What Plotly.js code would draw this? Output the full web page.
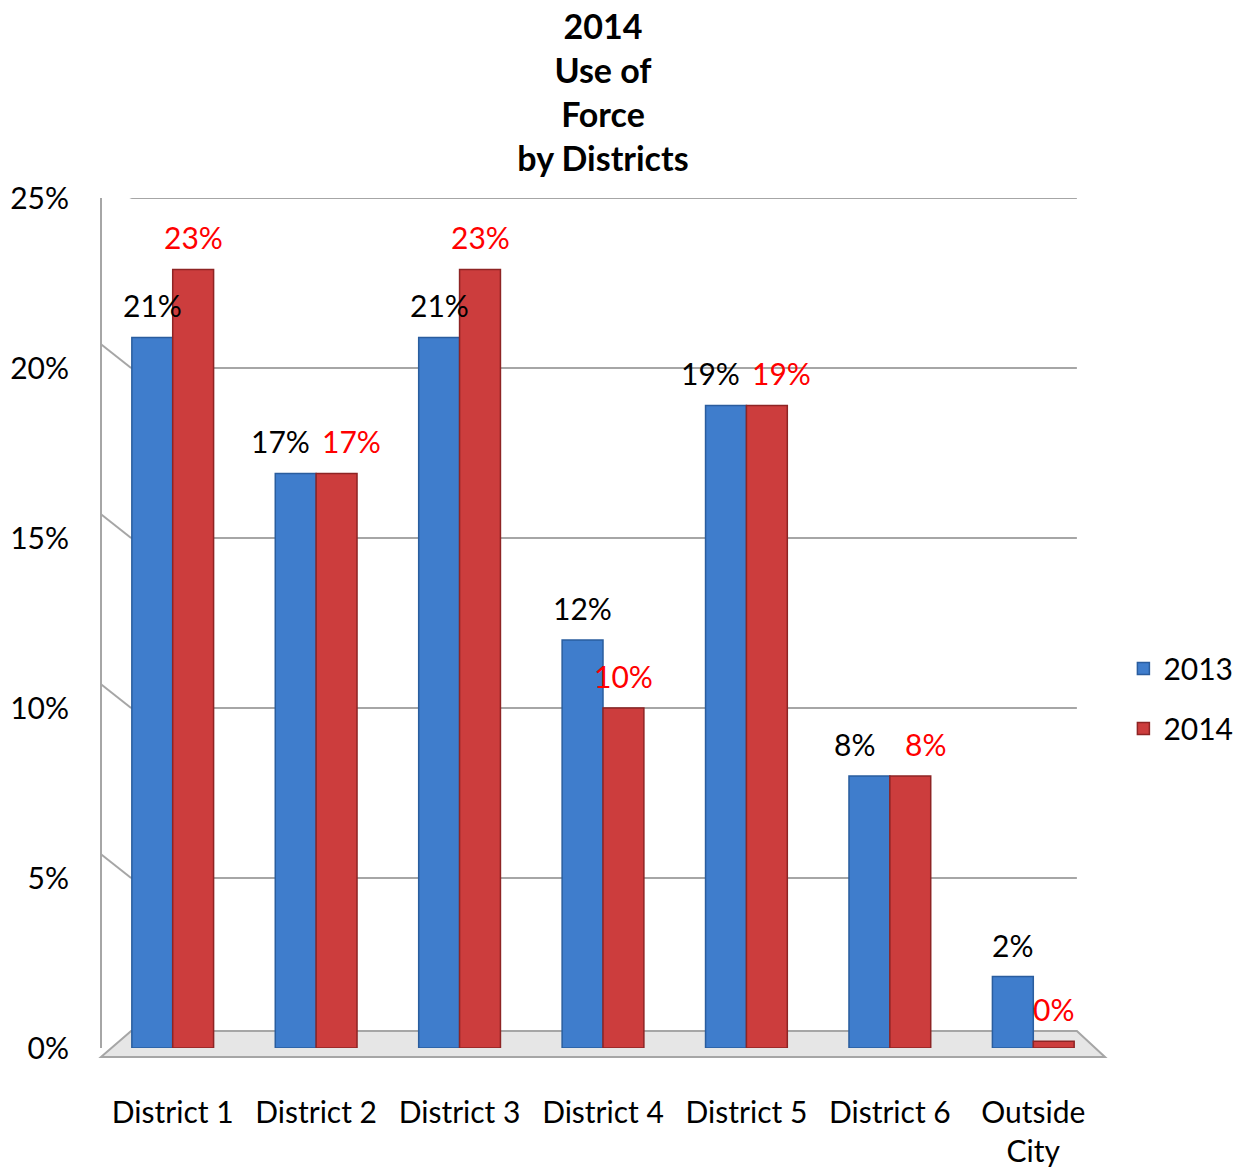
<!DOCTYPE html>
<html>
<head>
<meta charset="utf-8">
<script src="https://cdn.plot.ly/plotly-3.0.1.min.js"></script>
<style>html,body{margin:0;padding:0;background:#fff;}#chart{width:1251px;height:1168px;}</style>
</head>
<body>
<div id="chart"></div>
<script>
var categories = ["District 1", "District 2", "District 3", "District 4", "District 5", "District 6", "Outside<br>City"];
var values2013 = [20.9, 16.9, 20.9, 12.0, 18.9, 8.0, 2.1];
var values2014 = [22.9, 16.9, 22.9, 10.0, 18.9, 8.0, 0.2];
var labels2013 = ["21%", "17%", "21%", "12%", "19%", "8%", "2%"];
var labels2014 = ["23%", "17%", "23%", "10%", "19%", "8%", "0%"];
var yTickVals = [0, 5, 10, 15, 20, 25];
var yTickText = ["0%", "5%", "10%", "15%", "20%", "25%"];

var FONT = "Lato, 'Open Sans', sans-serif";
var GRID = "#a6a6a6";

var trace2013 = {
  type: "bar", name: "2013", x: categories, y: values2013,
  marker: {color: "#3f7dcc", line: {color: "#2a5d9e", width: 1.5}},
  legendgroup: "a", hoverinfo: "none"
};
var trace2014 = {
  type: "bar", name: "2014", x: categories, y: values2014,
  marker: {color: "#cc3d3d", line: {color: "#8e2424", width: 1.5}},
  legendgroup: "b", hoverinfo: "none"
};

// data labels as annotations, spread apart when a pair sits at a similar height
var annotations = [];
var barHalf = 20.5;
for (var i = 0; i < categories.length; i++) {
  var spread = Math.abs(values2013[i] - values2014[i]) < 1.5 ? 15 : 0;
  annotations.push({
    x: categories[i], y: values2013[i], xref: "x", yref: "y",
    text: labels2013[i], showarrow: false, yanchor: "bottom", yshift: 12,
    xshift: -barHalf - spread,
    font: {family: FONT, size: 30, color: "#000000"}
  });
  annotations.push({
    x: categories[i], y: values2014[i], xref: "x", yref: "y",
    text: labels2014[i], showarrow: false, yanchor: "bottom", yshift: 12,
    xshift: barHalf + spread,
    font: {family: FONT, size: 30, color: "#ff0000"}
  });
}

// back-wall gridlines with a short diagonal from the left wall
var shapes = [
  {type: "path", xref: "paper", yref: "paper", layer: "below",
   path: "M 0 -0.0106 L 1 -0.0106 L 0.972 0.02 L 0.03 0.02 Z",
   fillcolor: "#e6e6e6", line: {color: GRID, width: 2}},
  {type: "line", xref: "paper", yref: "y", layer: "below",
   x0: 0, y0: 25.7, x1: 0, y1: -0.27, line: {color: GRID, width: 2}}
];
yTickVals.forEach(function (v) {
  if (v === 0) return;
  shapes.push({type: "line", xref: "paper", yref: "y", layer: "below",
    x0: 0, y0: v + 0.7, x1: 0.03, y1: v, line: {color: GRID, width: 2}});
  shapes.push({type: "line", xref: "paper", yref: "y", layer: "below",
    x0: 0.03, y0: v, x1: 0.972, y1: v, line: {color: GRID, width: 2}});
});

var layout = {
  width: 1251, height: 1168,
  paper_bgcolor: "#ffffff", plot_bgcolor: "#ffffff",
  margin: {l: 101, r: 146, t: 198, b: 120, autoexpand: false},
  font: {family: FONT, size: 30, color: "#000000"},
  title: {
    text: "<b>2014<br>Use of<br>Force<br>by Districts</b>",
    x: 0.482, xanchor: "center", y: 0.967, yanchor: "top", yref: "container",
    font: {family: FONT, size: 34, color: "#000000"}
  },
  barmode: "group", bargap: 0.43, bargroupgap: 0,
  xaxis: {
    type: "category", showgrid: false, zeroline: false, showline: false,
    ticks: "", ticklabelstandoff: 44, automargin: false,
    tickfont: {family: FONT, size: 30, color: "#000000"}
  },
  yaxis: {
    range: [0, 25], tickvals: yTickVals, ticktext: yTickText,
    showgrid: false, zeroline: false, showline: false,
    ticks: "", ticklabelstandoff: 31, automargin: false,
    tickfont: {family: FONT, size: 30, color: "#000000"}
  },
  legend: {
    xref: "container", yref: "container",
    x: 0.898, xanchor: "left", y: 0.402, yanchor: "middle",
    font: {family: FONT, size: 30, color: "#000000"},
    traceorder: "grouped", tracegroupgap: 18, bgcolor: "rgba(0,0,0,0)"
  },
  annotations: annotations,
  shapes: shapes,
  showlegend: true
};

Plotly.newPlot("chart", [trace2013, trace2014], layout, {displayModeBar: false, staticPlot: true});
</script>
</body>
</html>
